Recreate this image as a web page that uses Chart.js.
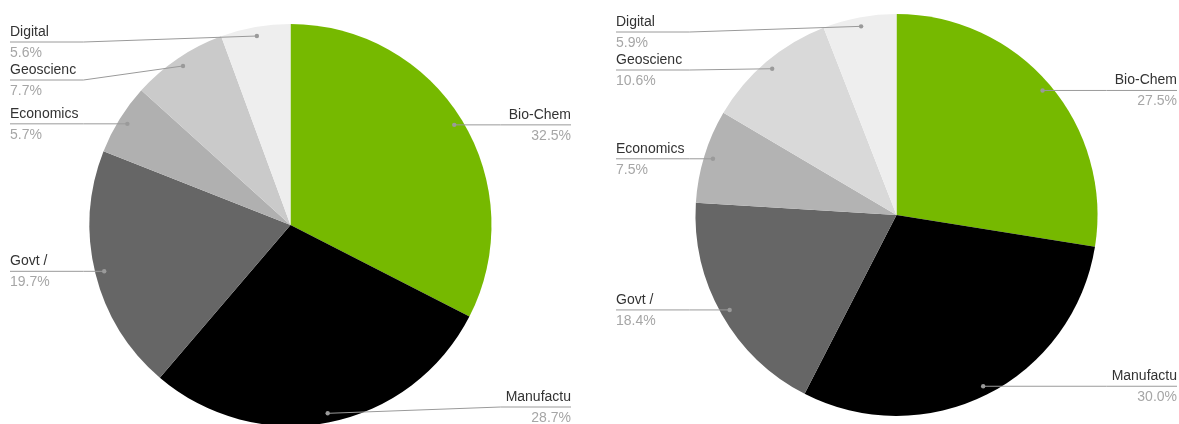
<!DOCTYPE html>
<html>
<head>
<meta charset="utf-8">
<script src="https://cdn.jsdelivr.net/npm/chart.js@4.4.1/dist/chart.umd.min.js"></script>
<style>
  html, body { margin: 0; padding: 0; background: #ffffff; overflow: hidden; }
  #page { position: relative; width: 1179px; height: 424px; overflow: hidden; background: #ffffff; }
  .box { position: absolute; top: 0; }
  #boxA { left: 0px; width: 581px; height: 450px; }
  #boxB { left: 606px; width: 581px; height: 430px; }
</style>
</head>
<body>
<div id="page">
  <div class="box" id="boxA"><canvas id="pieA"></canvas></div>
  <div class="box" id="boxB"><canvas id="pieB"></canvas></div>
</div>
<script>
// Sector names, clockwise from 12 o'clock
const categories = ['Bio-Chem', 'Manufactu', 'Govt /', 'Economics', 'Geoscienc', 'Digital'];
// Share of each sector, percent
const sharesA = [32.5, 28.7, 19.7, 5.7, 7.7, 5.6];
const sharesB = [27.5, 30.0, 18.4, 7.5, 10.6, 5.9];

const coloursA = ['#76b900', '#000000', '#666666', '#b0b0b0', '#cacaca', '#eeeeee'];
const coloursB = ['#76b900', '#000000', '#666666', '#b3b3b3', '#d9d9d9', '#eeeeee'];

const FONT = '"Liberation Sans", Arial, Helvetica, sans-serif';
const VISIBLE_H = 424;

// Outside labels with leader lines: name above the line, share below it.
const sideLabels = {
  id: 'sideLabels',
  afterDatasetsDraw(chart) {
    const ctx = chart.ctx;
    const meta = chart.getDatasetMeta(0);
    const data = chart.data.datasets[0].data;
    const names = chart.data.labels;
    const area = chart.chartArea;
    const W = chart.width;
    ctx.save();
    ctx.font = '14px ' + FONT;

    const items = meta.data.map((arc, i) => {
      const p = arc.getProps(['x', 'y', 'startAngle', 'endAngle', 'outerRadius'], true);
      const mid = (p.startAngle + p.endAngle) / 2;
      const r = p.outerRadius * 0.955;
      return {
        name: names[i],
        pct: data[i].toFixed(1) + '%',
        dx: p.x + Math.cos(mid) * r,
        dy: p.y + Math.sin(mid) * r,
        right: Math.cos(mid) >= 0,
        w: ctx.measureText(names[i]).width
      };
    });

    const topLimit = area.top + 18;
    const bottomLimit = VISIBLE_H - 17;
    const gap = 38;

    [true, false].forEach(side => {
      const list = items.filter(it => it.right === side).sort((a, b) => a.dy - b.dy);
      if (!list.length) return;
      let prev = -Infinity;
      list.forEach(it => {
        it.ly = Math.max(it.dy, prev + gap, topLimit);
        prev = it.ly;
      });
      let next = Infinity;
      for (let k = list.length - 1; k >= 0; k--) {
        list[k].ly = Math.min(list[k].ly, next - gap, bottomLimit);
        next = list[k].ly;
      }
      const seg = Math.max(...list.map(it => it.w)) + 5;

      list.forEach(it => {
        const edge = side ? W - 10 : 10;
        const bend = side ? edge - seg : edge + seg;
        // leader line
        ctx.strokeStyle = '#9a9a9a';
        ctx.lineWidth = 1;
        ctx.beginPath();
        ctx.moveTo(edge, it.ly);
        ctx.lineTo(bend, it.ly);
        ctx.lineTo(it.dx, it.dy);
        ctx.stroke();
        // anchor dot
        ctx.fillStyle = '#9a9a9a';
        ctx.beginPath();
        ctx.arc(it.dx, it.dy, 2.2, 0, Math.PI * 2);
        ctx.fill();
        // texts
        ctx.textAlign = side ? 'right' : 'left';
        ctx.textBaseline = 'alphabetic';
        ctx.fillStyle = '#333333';
        ctx.fillText(it.name, edge, it.ly - 6);
        ctx.fillStyle = '#a6a6a6';
        ctx.fillText(it.pct, edge, it.ly + 15);
      });
    });
    ctx.restore();
  }
};

function makePie(id, values, colours, padTop, padBottom) {
  return new Chart(document.getElementById(id), {
    type: 'pie',
    data: {
      labels: categories,
      datasets: [{
        data: values,
        backgroundColor: colours,
        borderWidth: 0,
        hoverOffset: 0
      }]
    },
    options: {
      responsive: true,
      maintainAspectRatio: false,
      animation: false,
      events: [],
      layout: { padding: { top: padTop, bottom: padBottom, left: 0, right: 0 } },
      plugins: {
        legend: { display: false },
        tooltip: { enabled: false }
      }
    },
    plugins: [sideLabels]
  });
}

makePie('pieA', sharesA, coloursA, 24, 24);
makePie('pieB', sharesB, coloursB, 14, 14);
</script>
</body>
</html>
